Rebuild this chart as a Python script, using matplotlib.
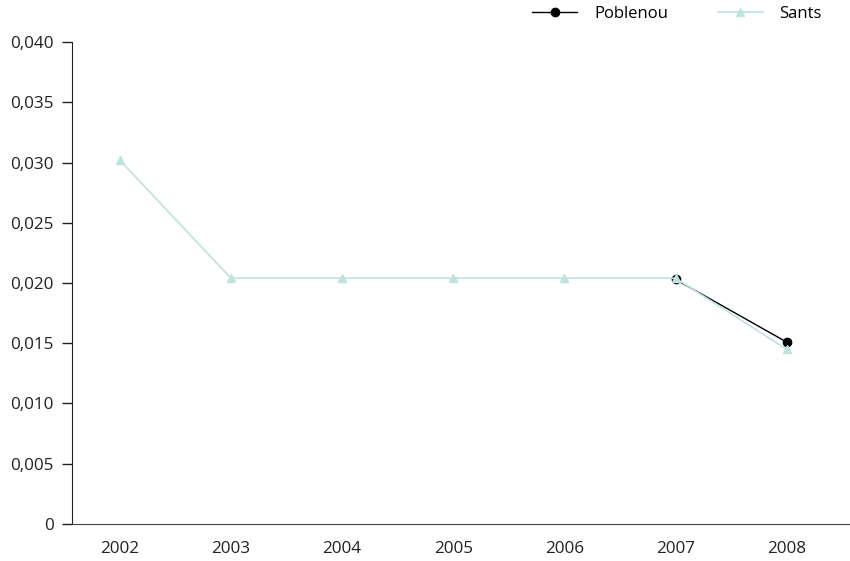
import matplotlib
matplotlib.use("Agg")
import matplotlib.pyplot as plt
from matplotlib.ticker import FuncFormatter

plt.rcParams['font.family'] = ['Open Sans', 'DejaVu Sans']

years = ['2002', '2003', '2004', '2005', '2006', '2007', '2008']
sants = [0.0302, 0.0204, 0.0204, 0.0204, 0.0204, 0.0204, 0.0145]
poblenou_years = ['2007', '2008']
poblenou = [0.0203, 0.0151]

fig = plt.figure(figsize=(8.5, 5.61), dpi=100)
ax = fig.add_axes([0.0847, 0.066, 0.9153, 0.859])

x = list(range(len(years)))
px = [years.index(y) for y in poblenou_years]

ax.plot(px, poblenou, color='black', marker='o', markersize=6, linewidth=1.0, label='Poblenou', zorder=2)
ax.plot(x, sants, color='#bde2e0', marker='^', markersize=6, linewidth=1.2, label='Sants', zorder=3)

ax.set_xlim(-0.43, 6.57)
ax.set_ylim(0, 0.040)
ax.set_xticks(x)
ax.set_xticklabels(years)
ax.set_yticks([i * 0.005 for i in range(9)])
ax.yaxis.set_major_formatter(FuncFormatter(lambda v, p: '0' if v == 0 else f'{v:.3f}'.replace('.', ',')))

ax.tick_params(axis='x', length=0, pad=12, labelsize=12.3, colors='#222222')
ax.tick_params(axis='y', length=7, width=1, pad=6, labelsize=12.3, colors='#222222')
ax.spines['top'].set_visible(False)
ax.spines['right'].set_visible(False)
ax.spines['left'].set_color('#222222')
ax.spines['bottom'].set_color('#444444')

handles, labels = ax.get_legend_handles_labels()
ax.legend(handles, labels, loc='center right', bbox_to_anchor=(0.964, 1.058), ncol=2,
          frameon=False, fontsize=12, handlelength=2.7, handletextpad=1.0,
          columnspacing=3.0, borderaxespad=0, borderpad=0)

fig.savefig('out.png', dpi=100)
